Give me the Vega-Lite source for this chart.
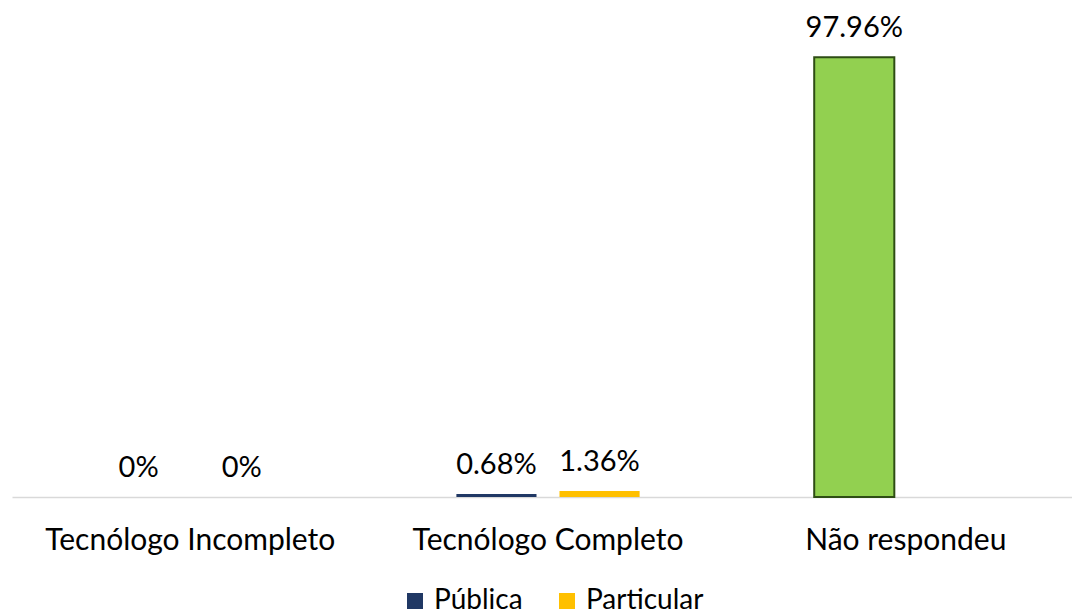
{
  "$schema": "https://vega.github.io/schema/vega-lite/v6.json",
  "width": 1060,
  "height": 449,
  "autosize": {"type": "none"},
  "padding": {"left": 12, "top": 48, "right": 0, "bottom": 117},
  "background": "white",
  "config": {"view": {"stroke": null}, "font": "Lato"},
  "data": {"values": [
    {"categoria": "Tecnólogo Incompleto", "serie": "Pública", "cor": "Pública", "valor": 0, "rotulo": "0%"},
    {"categoria": "Tecnólogo Incompleto", "serie": "Particular", "cor": "Particular", "valor": 0, "rotulo": "0%"},
    {"categoria": "Tecnólogo Completo", "serie": "Pública", "cor": "Pública", "valor": 0.68, "rotulo": "0.68%"},
    {"categoria": "Tecnólogo Completo", "serie": "Particular", "cor": "Particular", "valor": 1.36, "rotulo": "1.36%"},
    {"categoria": "Não respondeu", "serie": "Pública", "cor": "Não respondeu", "valor": 97.96, "rotulo": "97.96%"}
  ]},
  "encoding": {
    "x": {
      "field": "categoria", "type": "nominal",
      "sort": ["Tecnólogo Incompleto", "Tecnólogo Completo", "Não respondeu"],
      "scale": {"range": [0, 1072], "paddingInner": 0.488, "paddingOuter": 0.242},
      "axis": {"title": null, "labelAngle": 0, "ticks": false, "labelFontSize": 30, "labelLimit": 500, "labelColor": "#000000", "labelPadding": 28, "domainColor": "#d9d9d9", "domainWidth": 1.5, "grid": false}
    },
    "xOffset": {
      "field": "serie", "type": "nominal", "sort": ["Pública", "Particular"],
      "scale": {"paddingInner": 0.223, "paddingOuter": 0}
    },
    "y": {"field": "valor", "type": "quantitative", "scale": {"domain": [0, 100]}, "axis": null}
  },
  "layer": [
    {
      "mark": {"type": "bar", "strokeWidth": 2},
      "encoding": {
        "color": {
          "field": "cor", "type": "nominal",
          "scale": {"domain": ["Pública", "Particular", "Não respondeu"], "range": ["#203864", "#FFC000", "#92D050"]},
          "legend": {
            "values": ["Pública", "Particular"], "title": null, "orient": "none", "direction": "horizontal",
            "legendX": 389, "legendY": 539, "symbolType": "square", "symbolSize": 256, "symbolStrokeWidth": 0,
            "labelFontSize": 28, "labelColor": "#000000", "columnPadding": 30, "labelOffset": 5
          }
        },
        "stroke": {"condition": {"test": "datum.cor === 'Não respondeu'", "value": "#2e4d14"}, "value": null}
      }
    },
    {
      "mark": {"type": "text", "baseline": "alphabetic", "dy": -20, "fontSize": 29, "color": "#000000"},
      "encoding": {"text": {"field": "rotulo"}}
    }
  ]
}
